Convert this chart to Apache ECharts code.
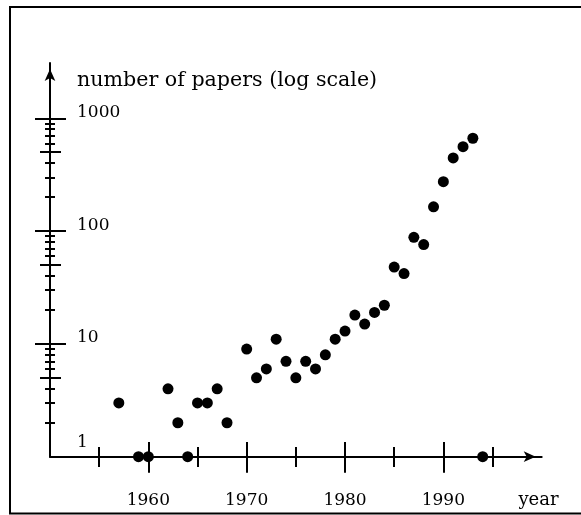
<!DOCTYPE html>
<html>
<head>
<meta charset="utf-8">
<script src="https://cdn.jsdelivr.net/npm/echarts@6/dist/echarts.min.js"></script>
<style>
  html, body { margin: 0; padding: 0; background: #fff; }
  #chart { width: 581px; height: 515px; }
</style>
</head>
<body>
<div id="chart"></div>
<script>
// ---- data ----
const years  = [1957, 1959, 1960, 1962, 1963, 1964, 1965, 1966, 1967, 1968,
                1970, 1971, 1972, 1973, 1974, 1975, 1976, 1977, 1978, 1979,
                1980, 1981, 1982, 1983, 1984, 1985, 1986, 1987, 1988, 1989,
                1990, 1991, 1992, 1993, 1994];
const papers = [3, 1, 1, 4, 2, 1, 3, 3, 4, 2,
                9, 5, 6, 11, 7, 5, 7, 6, 8, 11,
                13, 18, 15, 19, 22, 48, 42, 88, 76, 164,
                274, 445, 560, 665, 1];

const xLabelValues   = [1960, 1970, 1980, 1990];
const xMajorTicks    = [1960, 1970, 1980, 1990];
const xMinorTicks    = [1955, 1965, 1975, 1985, 1995];
const yLabelValues   = [1, 10, 100, 1000];
const yMajorTicks    = [10, 100, 1000];
const yMidTicks      = [5, 50, 500];
const ySmallTicks    = [2, 3, 4, 6, 7, 8, 9, 20, 30, 40, 60, 70, 80, 90, 200, 300, 400, 600, 700, 800, 900];

const xTitle = 'year';
const yTitle = 'number of papers (log scale)';

// ---- chart ----
const FONT = 'DejaVu Serif';
const chart = echarts.init(document.getElementById('chart'), null, { renderer: 'canvas' });

const X_MIN = 1950, X_MAX = 2000, Y_MIN = 1, Y_MAX = 3090;

function xAxisTicks(values, len, inside) {
  return {
    type: 'value', position: 'bottom', min: X_MIN, max: X_MAX,
    axisLine: { show: false, onZero: false },
    axisTick: { show: true, inside: inside, length: len, customValues: values,
                lineStyle: { color: '#000', width: 2 } },
    axisLabel: { show: false },
    splitLine: { show: false }
  };
}
function yAxisTicks(values, len, inside) {
  return {
    type: 'log', logBase: 10, position: 'left', min: Y_MIN, max: Y_MAX,
    axisLine: { show: false, onZero: false },
    axisTick: { show: true, inside: inside, length: len, customValues: values,
                lineStyle: { color: '#000', width: 2 } },
    axisLabel: { show: false },
    splitLine: { show: false },
    minorTick: { show: false }
  };
}

const option = {
  backgroundColor: '#fff',
  animation: false,
  grid: { left: 50, right: 39.3, top: 63, bottom: 58.3, containLabel: false, outerBoundsMode: 'none' },
  graphic: [{
    type: 'rect',
    shape: { x: 10, y: 7, width: 620, height: 506.5 },
    style: { fill: 'none', stroke: '#000', lineWidth: 2 },
    silent: true, z: 0
  }],
  xAxis: [
    {
      type: 'value', position: 'bottom', min: X_MIN, max: X_MAX,
      name: xTitle, nameLocation: 'end', nameGap: -3.2, nameMoveOverlap: false,
      nameTextStyle: { fontFamily: FONT, fontSize: 18, color: '#000', align: 'center',
                       verticalAlign: 'top', lineHeight: 18, padding: [34.7, 0, 0, 0] },
      axisLine: { show: true, onZero: false, symbol: ['none', 'arrow'], symbolSize: [8, 12],
                  symbolOffset: [0, -6], lineStyle: { color: '#000', width: 2 } },
      axisTick: { show: true, inside: false, length: 16, customValues: xMajorTicks,
                  lineStyle: { color: '#000', width: 2 } },
      axisLabel: { show: true, customValues: xLabelValues, margin: 35.5, color: '#000',
                   fontFamily: FONT, fontSize: 17, lineHeight: 17,
                   formatter: v => String(v) },
      splitLine: { show: false }
    },
    xAxisTicks(xMajorTicks, 14.7, true),
    xAxisTicks(xMinorTicks, 10.3, false),
    xAxisTicks(xMinorTicks, 9.7, true)
  ],
  yAxis: [
    {
      type: 'log', logBase: 10, position: 'left', min: Y_MIN, max: Y_MAX,
      name: yTitle, nameLocation: 'end', nameGap: -18, nameMoveOverlap: false,
      nameTextStyle: { fontFamily: FONT, fontSize: 20.6, color: '#000', align: 'left',
                       verticalAlign: 'middle', padding: [0, 0, 0, 27] },
      axisLine: { show: true, onZero: false, symbol: ['none', 'arrow'], symbolSize: [8, 12],
                  symbolOffset: [0, -6], lineStyle: { color: '#000', width: 2 } },
      axisTick: { show: true, inside: false, length: 15, customValues: yMajorTicks,
                  lineStyle: { color: '#000', width: 2 } },
      axisLabel: {
        show: true, inside: true, margin: 27, customValues: yLabelValues, color: '#000',
        fontFamily: FONT, fontSize: 17,
        formatter: v => (Math.round(v) === 1 ? '{one|1}' : '{n|' + Math.round(v) + '}'),
        rich: {
          n:   { fontFamily: FONT, fontSize: 17, color: '#000', padding: [0, 0, 12, 0] },
          one: { fontFamily: FONT, fontSize: 17, color: '#000', padding: [0, 0, 28, 0] }
        }
      },
      splitLine: { show: false },
      minorTick: { show: false }
    },
    yAxisTicks(yMajorTicks, 16, true),
    yAxisTicks(yMidTicks, 10, false),
    yAxisTicks(yMidTicks, 11, true),
    yAxisTicks(ySmallTicks, 5, false),
    yAxisTicks(ySmallTicks, 5, true)
  ],
  series: [{
    type: 'scatter',
    xAxisIndex: 0, yAxisIndex: 0,
    symbol: 'circle', symbolSize: 11,
    itemStyle: { color: '#000', opacity: 1 },
    data: years.map((y, i) => [y, papers[i]]),
    z: 10
  }]
};

chart.setOption(option);
</script>
</body>
</html>
